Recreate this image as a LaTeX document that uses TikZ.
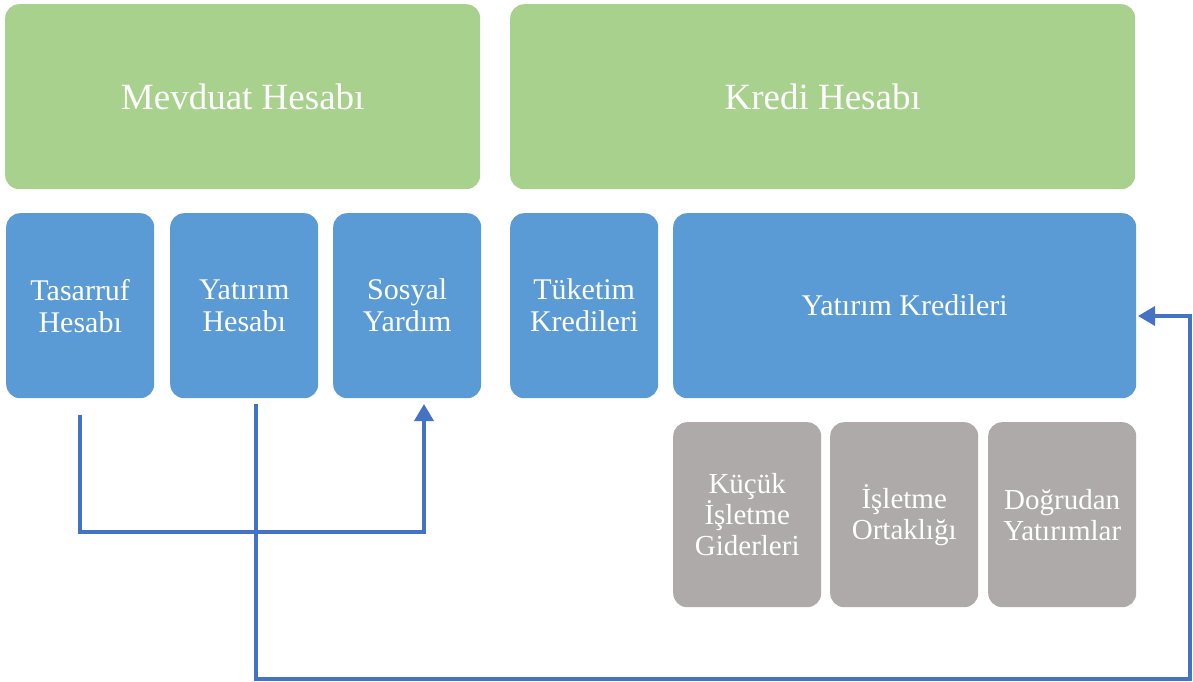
\documentclass[tikz,border=0pt]{standalone}
\usepackage{fontspec}
\setmainfont{Liberation Serif}
\usetikzlibrary{arrows.meta}
\definecolor{grn}{HTML}{A9D18E}
\definecolor{blu}{HTML}{5B9BD5}
\definecolor{gry}{HTML}{ADAAA9}
\definecolor{lne}{HTML}{4472C4}
\begin{document}
\begin{tikzpicture}[x=1pt,y=-1pt,
  box/.style={rounded corners=14pt, text=white, align=center, inner sep=0pt, anchor=north west,
    minimum height=185pt, font=\fontsize{30}{32}\selectfont},
  bigbox/.style={box, fill=grn, font=\fontsize{37}{40}\selectfont},
  bluebox/.style={box, fill=blu},
  graybox/.style={box, fill=gry, minimum width=148pt, font=\fontsize{29}{31}\selectfont},
  link/.style={draw=lne, line width=3.5pt},
  tip/.style={-{Triangle[width=19pt,length=17pt]}}]
\useasboundingbox (0,0) rectangle (1193,682);
\node[bigbox, minimum width=475pt] (mev) at (5,4) {Mevduat Hesabı};
\node[bigbox, minimum width=625pt] (kre) at (510,4) {Kredi Hesabı};
\node[bluebox, minimum width=148pt] (tas) at (6,213) {Tasarruf\\Hesabı};
\node[bluebox, minimum width=148pt] (yat) at (170,213) {Yatırım\\Hesabı};
\node[bluebox, minimum width=148pt] (sos) at (333,213) {Sosyal\\Yardım};
\node[bluebox, minimum width=148pt] (tuk) at (510,213) {Tüketim\\Kredileri};
\node[bluebox, minimum width=463pt] (yk) at (673,213) {Yatırım Kredileri};
\node[graybox] (kuc) at (673,422) {Küçük\\İşletme\\Giderleri};
\node[graybox] (isl) at (830,422) {İşletme\\Ortaklığı};
\node[graybox] (dog) at (988,422) {Doğrudan\\Yatırımlar};
\coordinate (a1) at (80,415);
\coordinate (a2) at (424,404);
\coordinate (b1) at (256,404);
\coordinate (b2) at (1138,316);
\draw[link, tip] (a1) -- (80,532) -- (424,532) -- (a2);
\draw[link, tip] (b1) -- (256,679) -- (1190,679) -- (1190,316) -- (b2);
\end{tikzpicture}
\end{document}
